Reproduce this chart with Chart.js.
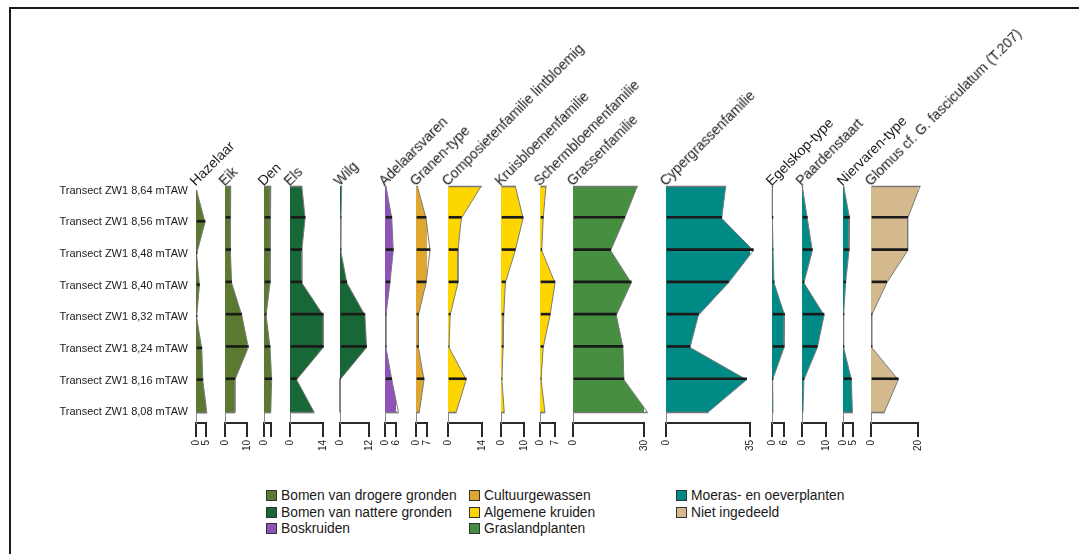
<!DOCTYPE html>
<html>
<head>
<meta charset="utf-8">
<script src="https://cdn.jsdelivr.net/npm/chart.js@4.4.1/dist/chart.umd.min.js"></script>
<style>
  body { margin: 0; background: #fff; width: 1079px; height: 554px; overflow: hidden; position: relative;
         font-family: "Liberation Sans", Arial, Helvetica, sans-serif; color: #1a1a1a; }
  .frame { position: absolute; left: 9px; top: 7px; width: 1100px; height: 600px; border: 2px solid #1a1a1a; }
  canvas.panel { position: absolute; }
  .head { position: absolute; font-size: 14px; line-height: 14px; white-space: nowrap;
          transform-origin: 0 100%; transform: rotate(-45deg); }
  .legend { position: absolute; left: 266px; top: 488px; display: grid; grid-auto-flow: column;
            grid-template-columns: 203px 207px auto; grid-template-rows: repeat(3, 16.5px); font-size: 13.8px; }
  .legend span.box { display: inline-block; width: 9px; height: 9px; border: 1px solid #333; margin-right: 4px; vertical-align: -1px; }
</style>
</head>
<body>
<div class="frame"></div>
<script>
// depth samples, top to bottom
const samples = ['Transect ZW1 8,64 mTAW', 'Transect ZW1 8,56 mTAW', 'Transect ZW1 8,48 mTAW', 'Transect ZW1 8,40 mTAW',
                 'Transect ZW1 8,32 mTAW', 'Transect ZW1 8,24 mTAW', 'Transect ZW1 8,16 mTAW', 'Transect ZW1 8,08 mTAW'];

const taxa = ['Hazelaar', 'Eik', 'Den', 'Els', 'Wilg', 'Adelaarsvaren', 'Granen-type', 'Composietenfamilie lintbloemig',
              'Kruisbloemenfamilie', 'Schermbloemenfamilie', 'Grassenfamilie', 'Cypergrassenfamilie', 'Egelskop-type',
              'Paardenstaart', 'Niervaren-type', 'Glomus cf. G. fasciculatum (T.207)'];

const groups = ['Bomen van drogere gronden', 'Bomen van nattere gronden', 'Boskruiden', 'Cultuurgewassen',
                'Algemene kruiden', 'Graslandplanten', 'Moeras- en oeverplanten', 'Niet ingedeeld'];
const taxonGroup = [0, 0, 0, 1, 1, 2, 3, 4, 4, 4, 5, 6, 6, 6, 6, 7];

// axis end (percent) for each taxon
const axisMax = [5, 10, 3, 14, 12, 6, 7, 14, 10, 7, 30, 35, 6, 10, 5, 20];
const hideMaxLabel = ['Den'];

// percentages per sample (8,64 -> 8,08)
const hazelaar     = [0.3, 4.5, 0.3, 1.7, 0.3, 2.9, 3.4, 5.4];
const eik          = [2.6, 2.3, 2.6, 3.0, 7.6, 10.6, 4.5, 4.5];
const den          = [2.9, 2.6, 2.6, 2.6, 0.9, 2.6, 3.3, 2.9];
const els          = [5.0, 6.4, 5.0, 5.0, 14.1, 14.1, 2.8, 10.2];
const wilg         = [0.7, 0.4, 0.3, 2.8, 10.3, 11.0, 0, 0];
const adelaar      = [0.5, 3.7, 4.5, 2.7, 0.5, 0.5, 3.7, 7.3];
const granen       = [0.8, 6.4, 8.9, 6.4, 1.5, 1.5, 5.1, 2.1];
const composieten  = [13.7, 5.5, 4.1, 4.1, 0.9, 0.4, 7.5, 3.4];
const kruisbloem   = [6.2, 9.6, 6.2, 1.9, 1.2, 0.9, 0.4, 1.4];
const schermbloem  = [2.8, 1.5, 0.8, 7.0, 4.7, 1.5, 0.5, 2.3];
const grassen      = [27.2, 21.8, 15.9, 24.6, 18.3, 21.1, 21.5, 31.4];
const cypergras    = [24.9, 23.2, 36.4, 26.0, 13.5, 10.0, 33.6, 17.6];
const egelskop     = [0.2, 0.2, 0.5, 1.0, 6.3, 6.0, 0.3, 0.5];
const paardenstaart= [0.1, 2.2, 4.3, 0.8, 9.2, 6.4, 0.8, 0.4];
const niervaren    = [0.3, 3.3, 3.0, 1.3, 0.3, 0.3, 4.2, 4.7];
const glomus       = [20.9, 15.6, 15.6, 6.7, 0.3, 0.3, 11.6, 5.7];

const series = [hazelaar, eik, den, els, wilg, adelaar, granen, composieten, kruisbloem,
                schermbloem, grassen, cypergras, egelskop, paardenstaart, niervaren, glomus];

// styling / layout
const groupColors = ['#5b7a30', '#176836', '#8e52b8', '#e0a730', '#fdd600', '#468e40', '#008a86', '#d4b98e'];
const panelLeft  = [196, 225, 264, 290, 340, 385, 416, 448, 501, 540, 573, 666, 772, 802, 843, 871];
const panelWidth = [10, 22, 7, 33, 29, 11, 11, 34, 23, 15, 71, 84, 12, 24, 10, 47];
const PLOT_TOP = 186, PLOT_H = 237, AXIS_H = 40;
const PAD_T = 10, PAD_L = 8, PAD_R = 16, LABEL_W = 150;
const Y_MAX = samples.length - 1 + 0.34;
const FONT = '"Liberation Sans", Arial, Helvetica, sans-serif';

function makePanel(i) {
  const values = series[i];
  const max = axisMax[i];
  const first = i === 0;
  const yW = first ? LABEL_W : 0;
  const w = yW + PAD_L + panelWidth[i] + PAD_R;
  const h = PAD_T + PLOT_H + AXIS_H;

  const canvas = document.createElement('canvas');
  canvas.className = 'panel';
  canvas.width = w; canvas.height = h;
  canvas.style.width = w + 'px'; canvas.style.height = h + 'px';
  canvas.style.left = (panelLeft[i] - PAD_L - yW) + 'px';
  canvas.style.top = (PLOT_TOP - PAD_T) + 'px';
  document.body.appendChild(canvas);

  const pts = values.map((v, j) => ({ x: v, y: j }));

  new Chart(canvas, {
    type: 'line',
    data: {
      datasets: [
        { type: 'bar', data: pts.slice(1, -1), backgroundColor: '#1a1a1a', barThickness: 2, clip: false },
        { type: 'bar', data: [pts[0], pts[pts.length - 1]], backgroundColor: '#777', barThickness: 1, clip: false },
        { type: 'line', data: pts, fill: 'origin', backgroundColor: groupColors[taxonGroup[i]],
          borderColor: '#7a7a7a', borderWidth: 1, pointRadius: 0, tension: 0, clip: false }
      ]
    },
    options: {
      indexAxis: 'y',
      responsive: false,
      animation: false,
      events: [],
      layout: { padding: { left: PAD_L, right: PAD_R, top: PAD_T, bottom: 0 } },
      plugins: { legend: { display: false }, tooltip: { enabled: false } },
      scales: {
        x: {
          type: 'linear', min: 0, max: max, offset: false,
          afterBuildTicks: s => { s.ticks = [{ value: 0 }, { value: max }]; },
          afterFit: s => { s.height = AXIS_H; },
          ticks: {
            autoSkip: false, minRotation: 90, maxRotation: 90, padding: 3, color: '#1a1a1a',
            font: { family: FONT, size: 10 },
            callback: v => (v === max && hideMaxLabel.includes(taxa[i])) ? '' : String(v)
          },
          grid: { drawOnChartArea: false, drawTicks: true, tickLength: 14, color: '#2a2a2a', lineWidth: 2, offset: false },
          border: { display: true, color: '#2a2a2a', width: 2 }
        },
        y: {
          type: 'linear', reverse: true, min: 0, max: Y_MAX, offset: false,
          afterBuildTicks: s => { s.ticks = samples.map((_, j) => ({ value: j })); },
          afterFit: s => { s.width = yW; },
          ticks: {
            display: first, autoSkip: false, padding: 8, color: '#1a1a1a',
            font: { family: FONT, size: 11 },
            callback: v => samples[v]
          },
          grid: { display: true, drawOnChartArea: false, drawTicks: false, offset: false },
          border: { display: true, color: '#8a8a8a', width: 1 }
        }
      }
    }
  });

  const head = document.createElement('div');
  head.className = 'head';
  head.textContent = taxa[i];
  head.style.left = (panelLeft[i] + 1) + 'px';
  head.style.top = (PLOT_TOP + 2 - 14) + 'px';
  document.body.appendChild(head);
}

taxa.forEach((_, i) => makePanel(i));

// grouped legend, filled column by column
const legend = document.createElement('div');
legend.className = 'legend';
groups.forEach((g, k) => {
  const item = document.createElement('div');
  const box = document.createElement('span');
  box.className = 'box';
  box.style.background = groupColors[k];
  item.appendChild(box);
  item.appendChild(document.createTextNode(g));
  legend.appendChild(item);
});
document.body.appendChild(legend);
</script>
</body>
</html>
